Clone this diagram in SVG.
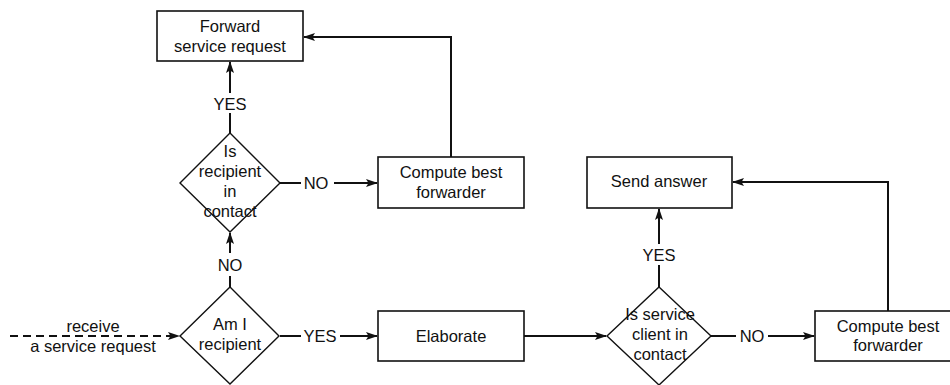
<svg xmlns="http://www.w3.org/2000/svg" width="950" height="385" viewBox="0 0 950 385">
  <style>
    text { font-family: "Liberation Sans", Arial, sans-serif; font-size: 16.5px; fill: #111; text-anchor: middle; }
    .box { fill: #fff; stroke: #111; stroke-width: 1.6; }
    .dia { fill: none; stroke: #111; stroke-width: 1.4; }
    .wire { fill: none; stroke: #111; stroke-width: 2; }
    .arrow { marker-end: url(#head); }
    .dash { stroke-dasharray: 8 5; }
  </style>
  <defs>
    <marker id="head" viewBox="0 0 12 8" refX="11" refY="4" markerWidth="12" markerHeight="8" markerUnits="userSpaceOnUse" orient="auto">
      <path d="M0,0 L12,4 L0,8 L2.5,4 Z" fill="#111"/>
    </marker>
  </defs>

  <g id="connectors">
    <!-- incoming request -->
    <line class="wire dash arrow" x1="10" y1="336" x2="179" y2="336"/>
    <text x="93" y="332">receive</text>
    <text x="93" y="352">a service request</text>
    <!-- Am I recipient: YES -->
    <line class="wire" x1="280" y1="336" x2="301" y2="336"/>
    <text x="320" y="342">YES</text>
    <line class="wire arrow" x1="340" y1="336" x2="377" y2="336"/>
    <!-- Am I recipient: NO -->
    <line class="wire" x1="230" y1="287" x2="230" y2="276"/>
    <text x="230" y="271">NO</text>
    <line class="wire arrow" x1="230" y1="253" x2="230" y2="233"/>
    <!-- recipient in contact: YES -->
    <line class="wire" x1="230" y1="133" x2="230" y2="113"/>
    <text x="230" y="110">YES</text>
    <line class="wire arrow" x1="230" y1="93" x2="230" y2="62"/>
    <!-- recipient in contact: NO -->
    <line class="wire" x1="280" y1="183" x2="301" y2="183"/>
    <text x="316" y="189">NO</text>
    <line class="wire arrow" x1="334" y1="183" x2="377" y2="183"/>
    <!-- upper compute best forwarder back to forward -->
    <polyline class="wire arrow" points="451,157 451,37 304,37"/>
    <!-- Elaborate to service check -->
    <line class="wire arrow" x1="524" y1="336" x2="606" y2="336"/>
    <!-- service check: YES -->
    <line class="wire" x1="659" y1="287" x2="659" y2="265"/>
    <text x="659" y="261">YES</text>
    <line class="wire arrow" x1="659" y1="244" x2="659" y2="209"/>
    <!-- service check: NO -->
    <line class="wire" x1="711" y1="336" x2="736" y2="336"/>
    <text x="752" y="342">NO</text>
    <line class="wire arrow" x1="768" y1="336" x2="814" y2="336"/>
    <!-- lower compute best forwarder back to send answer -->
    <polyline class="wire arrow" points="888,311 888,182 733,182"/>
  </g>

  <g id="forward-request">
    <rect class="box" x="157" y="11" width="146" height="50"/>
    <text x="230" y="32">Forward</text>
    <text x="230" y="52">service request</text>
  </g>

  <g id="recipient-in-contact">
    <polygon class="dia" points="230,133 280,183 230,232 180,183"/>
    <text x="230" y="157">Is</text>
    <text x="230" y="177">recipient</text>
    <text x="230" y="197">in</text>
    <text x="230" y="217">contact</text>
  </g>

  <g id="compute-forwarder-upper">
    <rect class="box" x="378" y="157" width="146" height="51"/>
    <text x="451" y="178">Compute best</text>
    <text x="451" y="198">forwarder</text>
  </g>

  <g id="am-i-recipient">
    <polygon class="dia" points="230,287 279,336 230,384 180,336"/>
    <text x="230" y="330">Am I</text>
    <text x="230" y="350">recipient</text>
  </g>

  <g id="elaborate">
    <rect class="box" x="378" y="311" width="146" height="50"/>
    <text x="451" y="342">Elaborate</text>
  </g>

  <g id="service-client-in-contact">
    <polygon class="dia" points="659,287 711,336 659,385 607,336"/>
    <text x="660" y="320">Is service</text>
    <text x="660" y="340">client in</text>
    <text x="660" y="360">contact</text>
  </g>

  <g id="send-answer">
    <rect class="box" x="587" y="157" width="145" height="51"/>
    <text x="659" y="187">Send answer</text>
  </g>

  <g id="compute-forwarder-lower">
    <rect class="box" x="815" y="311" width="146" height="50"/>
    <text x="888" y="332">Compute best</text>
    <text x="888" y="351">forwarder</text>
  </g>
</svg>
